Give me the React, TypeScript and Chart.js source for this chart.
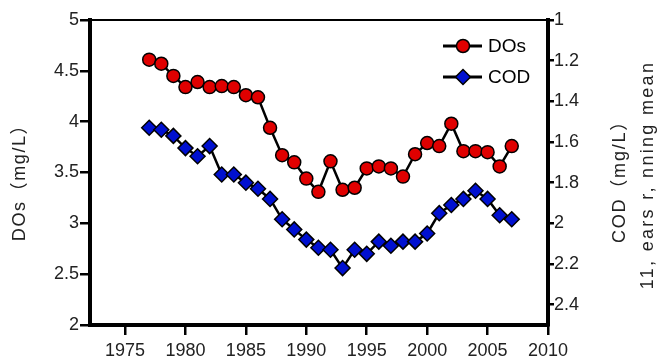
import React, { useEffect, useRef } from "react";
import { Chart, registerables } from "chart.js";

Chart.register(...registerables);

const YEARS = [1977, 1978, 1979, 1980, 1981, 1982, 1983, 1984, 1985, 1986, 1987, 1988, 1989, 1990, 1991, 1992, 1993, 1994, 1995, 1996, 1997, 1998, 1999, 2000, 2001, 2002, 2003, 2004, 2005, 2006, 2007];
const DOS = [4.61, 4.57, 4.45, 4.34, 4.39, 4.34, 4.35, 4.34, 4.26, 4.24, 3.94, 3.67, 3.6, 3.44, 3.31, 3.61, 3.33, 3.35, 3.54, 3.56, 3.54, 3.46, 3.68, 3.79, 3.76, 3.98, 3.71, 3.71, 3.7, 3.56, 3.76];
const COD = [1.53, 1.54, 1.57, 1.63, 1.67, 1.62, 1.76, 1.76, 1.8, 1.83, 1.88, 1.98, 2.03, 2.08, 2.12, 2.13, 2.22, 2.13, 2.15, 2.09, 2.11, 2.09, 2.09, 2.05, 1.95, 1.91, 1.88, 1.84, 1.88, 1.96, 1.98];

const X_TICKS = [1975, 1980, 1985, 1990, 1995, 2000, 2005, 2010];
const LEFT_TICKS = [2, 2.5, 3, 3.5, 4, 4.5, 5];
const RIGHT_TICKS = [1, 1.2, 1.4, 1.6, 1.8, 2, 2.2, 2.4];

const SERIES_NAMES = ["DOs", "COD"];
const LEFT_TITLE = "DOs（mg/L）";
const RIGHT_TITLE_1 = "COD（mg/L）";
const RIGHT_TITLE_2 = "11, ears r, nning mean";

const FONT = '"Liberation Sans", "Noto Sans CJK JP", Arial, sans-serif';
const RED = "#e00000";
const BLUE = "#0010d0";

function drawMarker(ctx: CanvasRenderingContext2D, kind: string, x: number, y: number, fill: string) {
  ctx.save();
  ctx.beginPath();
  if (kind === "circle") {
    ctx.arc(x, y, 6.5, 0, Math.PI * 2);
  } else {
    const r = 7.5;
    ctx.moveTo(x, y - r);
    ctx.lineTo(x + r, y);
    ctx.lineTo(x, y + r);
    ctx.lineTo(x - r, y);
    ctx.closePath();
  }
  ctx.fillStyle = fill;
  ctx.fill();
  ctx.lineWidth = 1.5;
  ctx.strokeStyle = "#000";
  ctx.stroke();
  ctx.restore();
}

const decorPlugin = {
  id: "decor",
  afterDraw(chart: any) {
    const ctx: any = chart.ctx;
    const a = chart.chartArea;
    ctx.save();
    // top border
    ctx.beginPath();
    ctx.moveTo(a.left, a.top);
    ctx.lineTo(a.right + 1, a.top);
    ctx.lineWidth = 2;
    ctx.strokeStyle = "#000";
    ctx.stroke();

    // legend
    const items = [
      { name: SERIES_NAMES[0], kind: "circle", fill: RED, y: 46 },
      { name: SERIES_NAMES[1], kind: "diamond", fill: BLUE, y: 77 },
    ];
    items.forEach((it) => {
      ctx.beginPath();
      ctx.moveTo(443, it.y);
      ctx.lineTo(482, it.y);
      ctx.lineWidth = 3;
      ctx.strokeStyle = "#000";
      ctx.stroke();
      drawMarker(ctx, it.kind, 463, it.y, it.fill);
      ctx.fillStyle = "#000";
      ctx.font = `19px ${FONT}`;
      ctx.textAlign = "left";
      ctx.textBaseline = "middle";
      ctx.fillText(it.name, 488, it.y + 1);
    });

    // axis titles
    ctx.fillStyle = "#222";
    ctx.font = `18px ${FONT}`;
    ctx.textAlign = "center";
    ctx.textBaseline = "middle";
    const vt = (text: string, x: number, y: number, spacing: string) => {
      ctx.save();
      ctx.letterSpacing = spacing;
      ctx.translate(x, y);
      ctx.rotate(-Math.PI / 2);
      ctx.fillText(text, 0, 0);
      ctx.restore();
    };
    vt(LEFT_TITLE, 20, 178, "1.6px");
    vt(RIGHT_TITLE_1, 620, 177, "1.8px");
    vt(RIGHT_TITLE_2, 648, 175, "2.3px");
    ctx.restore();
  },
};

export default function App() {
  const ref = useRef<HTMLCanvasElement | null>(null);
  useEffect(() => {
    if (!ref.current) return;
    const tickFont = { family: FONT, size: 18 };
    const chart = new Chart(ref.current, {
      type: "line",
      data: {
        datasets: [
          {
            label: SERIES_NAMES[0],
            data: YEARS.map((x, i) => ({ x, y: DOS[i] })),
            yAxisID: "y",
            borderColor: "#000",
            borderWidth: 2.5,
            pointStyle: "circle",
            pointRadius: 6.5,
            pointBackgroundColor: RED,
            pointBorderColor: "#000",
            pointBorderWidth: 1.5,
            tension: 0,
          },
          {
            label: SERIES_NAMES[1],
            data: YEARS.map((x, i) => ({ x, y: COD[i] })),
            yAxisID: "y1",
            borderColor: "#000",
            borderWidth: 2.5,
            pointStyle: "rectRot",
            pointRadius: 7.5,
            pointBackgroundColor: BLUE,
            pointBorderColor: "#000",
            pointBorderWidth: 1.5,
            tension: 0,
          },
        ],
      },
      options: {
        animation: false,
        responsive: false,
        maintainAspectRatio: false,
        layout: { padding: { top: 20, left: 0, right: 0, bottom: 0 } },
        plugins: { legend: { display: false }, tooltip: { enabled: false } },
        scales: {
          x: {
            type: "linear",
            min: 1972.1,
            max: 2010,
            afterBuildTicks: (s: any) => {
              s.ticks = X_TICKS.map((v) => ({ value: v }));
            },
            afterFit: (s: any) => {
              s.height = 38;
            },
            grid: { display: true, drawOnChartArea: false, drawTicks: true, tickLength: 10, color: "#000", lineWidth: 2.5 },
            border: { display: true, color: "#000", width: 4 },
            ticks: { color: "#222", font: tickFont, padding: 5, maxRotation: 0, autoSkip: false, callback: (v: any) => String(v) },
          },
          y: {
            type: "linear",
            position: "left",
            min: 2,
            max: 5,
            afterBuildTicks: (s: any) => {
              s.ticks = LEFT_TICKS.map((v) => ({ value: v }));
            },
            afterFit: (s: any) => {
              s.width = 90;
            },
            grid: { display: true, drawOnChartArea: false, drawTicks: true, tickLength: 10, color: "#000", lineWidth: 2.5 },
            border: { display: true, color: "#000", width: 4 },
            ticks: { color: "#222", font: tickFont, padding: 1, autoSkip: false, callback: (v: any) => String(v) },
          },
          y1: {
            type: "linear",
            position: "right",
            reverse: true,
            min: 1,
            max: 2.5,
            afterBuildTicks: (s: any) => {
              s.ticks = RIGHT_TICKS.map((v) => ({ value: v }));
            },
            afterFit: (s: any) => {
              s.width = 113;
            },
            grid: { display: true, drawOnChartArea: false, drawTicks: true, tickLength: 6, color: "#000", lineWidth: 2.5 },
            border: { display: true, color: "#000", width: 4 },
            ticks: { color: "#222", font: tickFont, padding: 0, autoSkip: false, callback: (v: any) => String(Math.round(v * 10) / 10) },
          },
        },
      },
      plugins: [decorPlugin],
    } as any);
    return () => chart.destroy();
  }, []);
  return (
    <div style={{ position: "fixed", left: 0, top: 0, width: 661, height: 363, background: "#fff" }}>
      <canvas ref={ref} width={661} height={363} style={{ display: "block", width: 661, height: 363 }} />
    </div>
  );
}
